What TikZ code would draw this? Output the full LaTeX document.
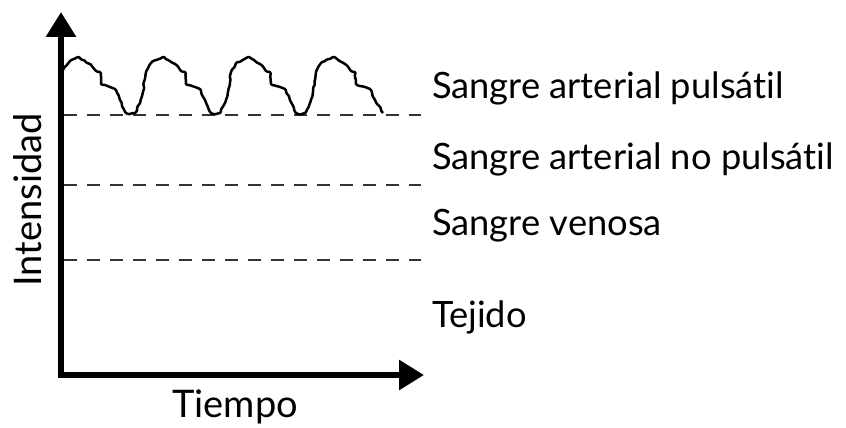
\documentclass[tikz,border=0pt]{standalone}
\usepackage{fontspec}
\setmainfont{Lato}[Ligatures=NoCommon]
\usetikzlibrary{arrows.meta,decorations.pathmorphing}

\tikzset{
  axis/.style={line width=6pt, line join=miter,
    {Triangle[length=25pt,width=29pt]}-{Triangle[length=25pt,width=29pt]}},
  level/.style={dash pattern=on 13pt off 10pt, line width=2.7pt, black!80},
  layer/.style={anchor=base west, inner sep=0pt, font=\fontsize{36.3}{42}\selectfont},
  axislabel/.style={inner sep=0pt, font=\fontsize{38}{44}\selectfont},
  pulse/.style={line width=2.5pt, line join=round, rounded corners=1pt,
    decorate, decoration={random steps, segment length=3pt, amplitude=0.9pt}}
}

\begin{document}
\begin{tikzpicture}[x=1pt, y=-1pt]
  \useasboundingbox (0,0) rectangle (846,428);

  % axes
  \coordinate (ytip) at (61,12);
  \coordinate (orig) at (61,375);
  \coordinate (xtip) at (424,375);
  \draw[axis] (ytip) -- (orig) -- (xtip);

  % levels
  \foreach \lv/\ypos in {pulsatil/115, nopulsatil/185, venosa/260} {
    \coordinate (\lv-a) at (64,\ypos);
    \coordinate (\lv-b) at (421,\ypos);
    \draw[level] (\lv-a) -- (\lv-b);
  }

  % signal
  \draw[pulse] (63,70) -- (70,61) -- (78,57)
    \foreach \p in {78,163,248} {
      -- (\p+12,64) -- (\p+18,71) -- (\p+22,72) -- (\p+23,84)
      -- (\p+32,87) -- (\p+37,89) -- (\p+42,100) -- (\p+47,112)
      -- (\p+50,114) -- (\p+57,113) -- (\p+62,103) -- (\p+65,92)
      -- (\p+68,72) -- (\p+73,63) -- (\p+85,57)}
    -- (345,64) -- (351,71) -- (355,72) -- (356,84) -- (365,87)
    -- (370,89) -- (375,100) -- (383,113);

  % labels
  \node[layer] (lbl-pulsatil) at (432,98) {Sangre arterial pulsátil};
  \node[layer] (lbl-nopulsatil) at (432,169) {Sangre arterial no pulsátil};
  \node[layer] (lbl-venosa) at (432,235) {Sangre venosa};
  \node[layer] (lbl-tejido) at (432,327) {Tejido};
  \node[axislabel, anchor=base] (lbl-tiempo) at (235,417) {Tiempo};
  \node[axislabel, rotate=90] (lbl-intensidad) at (28,200) {Intensidad};
\end{tikzpicture}
\end{document}
